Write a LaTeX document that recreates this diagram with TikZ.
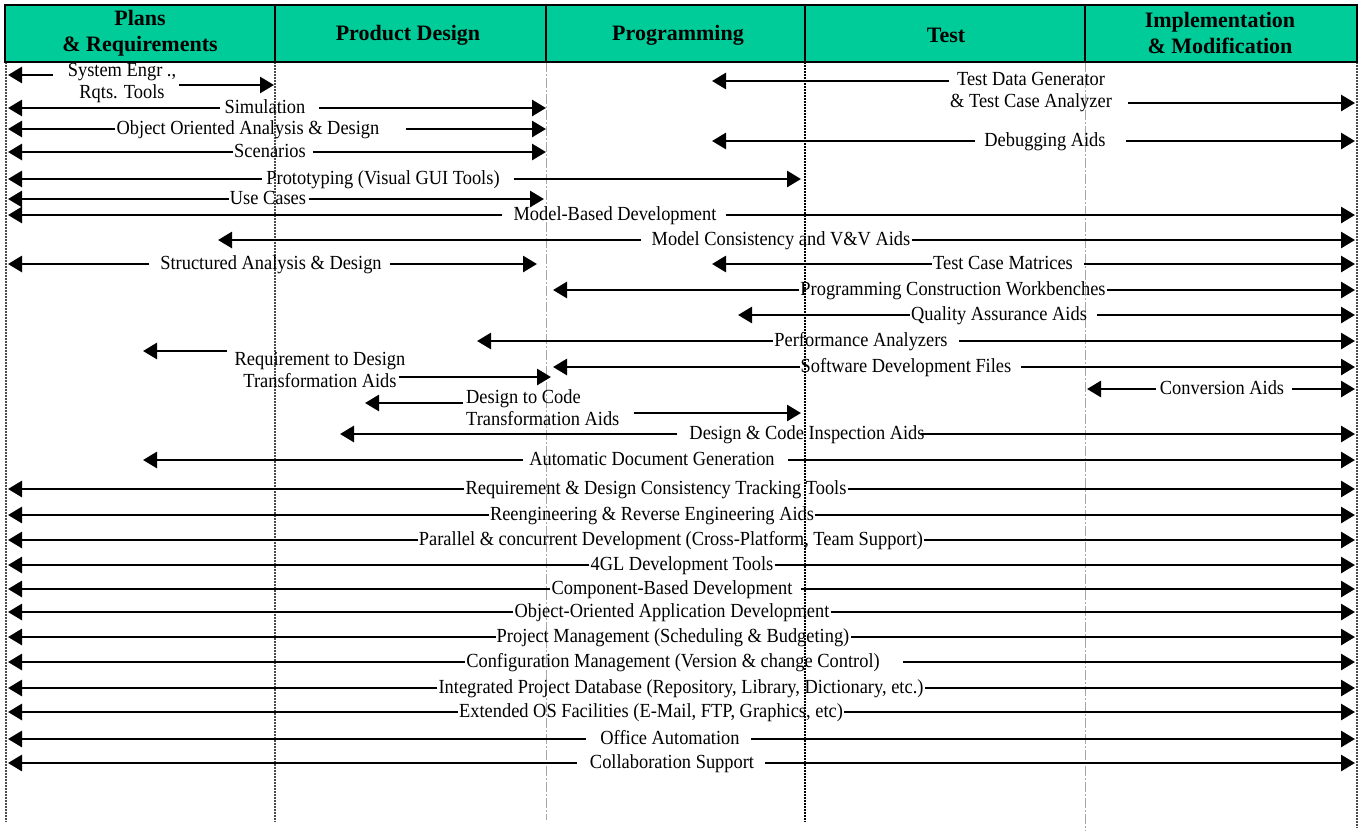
\documentclass[tikz,border=0pt]{standalone}
\usepackage{fontspec}
\setmainfont{Liberation Serif}
\newfontfamily\bodyfont{Liberation Serif}[FakeStretch=0.92]
\usetikzlibrary{arrows.meta}
\definecolor{hdr}{HTML}{00CC99}
\tikzset{
  lab/.style={font={\bodyfont\fontsize{20}{22}\selectfont}, inner xsep=1pt, inner ysep=1pt, text height=14pt, text depth=4pt},
  mlab/.style={font={\bodyfont\fontsize{20}{22}\selectfont}, inner xsep=1pt, inner ysep=1pt},
  hd/.style={font={\fontsize{22}{26}\selectfont\bfseries}, align=center},
  arr/.style={line width=2.8pt, -{Triangle[length=14pt,width=16pt]}},
  gridA/.style={line width=1.2pt, black!70, dash pattern=on 1.5pt off 1.5pt},
  gridB/.style={line width=0.8pt, black!35, dash pattern=on 10pt off 2pt on 2pt off 2pt},
  gridC/.style={line width=1.4pt, black, dash pattern=on 1.5pt off 1.5pt},
  hbox/.style={draw=black, line width=2pt, fill=hdr},
  hdiv/.style={draw=black, line width=2pt},
}
\newcommand\mrow[8]{%
  \node[lab] (#1) at (#2,#3) {#4};
  \draw[arr] ([xshift=-#5pt]#1.west) -- (#1.west -| #6);
  \draw[arr] ([xshift=#7pt]#1.east) -- (#1.east -| #8);
}
\begin{document}
\begin{tikzpicture}[x=1pt,y=-1pt]
\useasboundingbox (0,0) rectangle (1364,831);

% grid lines
\draw[gridA] (6,62) -- (6,822);
\draw[gridA] (275,62) -- (275,822);
\draw[gridB] (546,62) -- (546,820);
\draw[gridC] (805,62) -- (805,822);
\draw[gridB] (1085,62) -- (1085,831);
\draw[gridA] (1357,62) -- (1357,828);

% header
\path[hbox] (5,5) rectangle (1357,62);
\draw[hdiv] (275,5) -- (275,62);
\draw[hdiv] (546,5) -- (546,62);
\draw[hdiv] (805,5) -- (805,62);
\draw[hdiv] (1085,5) -- (1085,62);
\node[hd] (h1) at (140,33) {Plans\\\& Requirements};
\node[hd] (h2) at (408,35) {Product Design};
\node[hd] (h3) at (678,35) {Programming};
\node[hd] (h4) at (946,35) {Test};
\node[hd] (h5) at (1220,33) {Implementation\\\& Modification};

% arrow tip positions
\coordinate (tL) at (8,0);
\coordinate (tR) at (1355,0);
\coordinate (t546) at (546,0);
\coordinate (t544) at (544,0);
\coordinate (t537) at (537,0);
\coordinate (t551) at (551,0);
\coordinate (t553) at (553,0);
\coordinate (t800) at (801,0);
\coordinate (t275) at (274,0);
\coordinate (t218) at (218,0);
\coordinate (t712) at (712,0);
\coordinate (t738) at (738,0);
\coordinate (t477) at (477,0);
\coordinate (t143) at (143,0);
\coordinate (t365) at (365,0);
\coordinate (t340) at (340,0);
\coordinate (t1087) at (1087,0);

% two-line labels
\node[mlab, align=center] (sys) at (122,83) {System Engr .,\\Rqts. Tools};
\coordinate (sysA) at ([shift={(-14pt,8pt)}]sys.west);
\coordinate (sysB) at ([shift={(2pt,-2pt)}]sys.east);
\draw[arr] (sysA) -- (sysA -| tL);
\draw[arr] (sysB) -- (sysB -| t275);

\node[mlab, align=center] (tdg) at (1031,92) {Test Data Generator\\\& Test Case Analyzer};
\coordinate (tdgA) at ([shift={(0pt,11pt)}]tdg.west);
\coordinate (tdgB) at ([shift={(15pt,-11pt)}]tdg.east);
\draw[arr] (tdgA) -- (tdgA -| t712);
\draw[arr] (tdgB) -- (tdgB -| tR);

\node[mlab, align=center] (rtd) at (320,370) {Requirement to Design\\Transformation Aids};
\coordinate (rtdA) at ([shift={(-6pt,19pt)}]rtd.west);
\coordinate (rtdB) at ([shift={(-8pt,-7pt)}]rtd.east);
\draw[arr] (rtdA) -- (rtdA -| t143);
\draw[arr] (rtdB) -- (rtdB -| t551);

\node[mlab, align=left, anchor=west] (dtc) at (465,408) {Design to Code\\Transformation Aids};
\coordinate (dtcA) at ([shift={(-2pt,5pt)}]dtc.west);
\coordinate (dtcB) at ([shift={(13pt,-5pt)}]dtc.east);
\draw[arr] (dtcA) -- (dtcA -| t365);
\draw[arr] (dtcB) -- (dtcB -| t800);

% single-line rows: name, x, y, text, left gap, left tip, right gap, right tip
\mrow{sim}{265}{108}{Simulation}{3}{tL}{12}{t546}
\mrow{ooad}{248}{129}{Object Oriented Analysis \& Design}{0}{tL}{25}{t546}
\mrow{dbg}{1045}{141}{Debugging Aids}{8}{t712}{19}{tR}
\mrow{scen}{270}{152}{Scenarios}{0}{tL}{6}{t546}
\mrow{proto}{383}{179}{Prototyping (Visual GUI Tools)}{3}{tL}{13}{t800}
\mrow{use}{268}{199}{Use Cases}{0}{tL}{2}{t544}
\mrow{mbd}{615}{215}{Model-Based Development}{10}{tL}{8}{tR}
\mrow{mcv}{781}{240}{Model Consistency and V\&V Aids}{10}{t218}{0}{tR}
\mrow{sad}{271}{264}{Structured Analysis \& Design}{10}{tL}{7}{t537}
\mrow{tcm}{1003}{264}{Test Case Matrices}{0}{t712}{10}{tR}
\mrow{pcw}{953}{290}{Programming Construction Workbenches}{0}{t553}{0}{tR}
\mrow{qaa}{999}{315}{Quality Assurance Aids}{0}{t738}{9}{tR}
\mrow{perf}{861}{341}{Performance Analyzers}{0}{t477}{10}{tR}
\mrow{sdf}{906}{367}{Software Development Files}{0}{t553}{9}{tR}
\mrow{conv}{1222}{389}{Conversion Aids}{3}{t1087}{7}{tR}
\mrow{dci}{807}{434}{Design \& Code Inspection Aids}{11}{t340}{-5}{tR}
\mrow{adg}{652}{460}{Automatic Document Generation}{5}{t143}{12}{tR}
\mrow{rdc}{656}{489}{Requirement \& Design Consistency Tracking Tools}{0}{tL}{0}{tR}
\mrow{ree}{652}{515}{Reengineering \& Reverse Engineering Aids}{0}{tL}{0}{tR}
\mrow{par}{671}{540}{Parallel \& concurrent Development (Cross-Platform, Team Support)}{0}{tL}{0}{tR}
\mrow{gl}{682}{565}{4GL Development Tools}{0}{tL}{0}{tR}
\mrow{cbd}{672}{589}{Component-Based Development}{0}{tL}{7}{tR}
\mrow{ooa}{672}{612}{Object-Oriented Application Development}{0}{tL}{0}{tR}
\mrow{pm}{673}{637}{Project Management (Scheduling \& Budgeting)}{0}{tL}{0}{tR}
\mrow{cm}{673}{662}{Configuration Management (Version \& change Control)}{0}{tL}{22}{tR}
\mrow{ipd}{681}{688}{Integrated Project Database (Repository, Library, Dictionary, etc.)}{0}{tL}{0}{tR}
\mrow{eos}{651}{712}{Extended OS Facilities (E-Mail, FTP, Graphics, etc)}{0}{tL}{0}{tR}
\mrow{oa}{670}{739}{Office Automation}{13}{tL}{10}{tR}
\mrow{cs}{672}{763}{Collaboration Support}{12}{tL}{10}{tR}
\end{tikzpicture}
\end{document}
